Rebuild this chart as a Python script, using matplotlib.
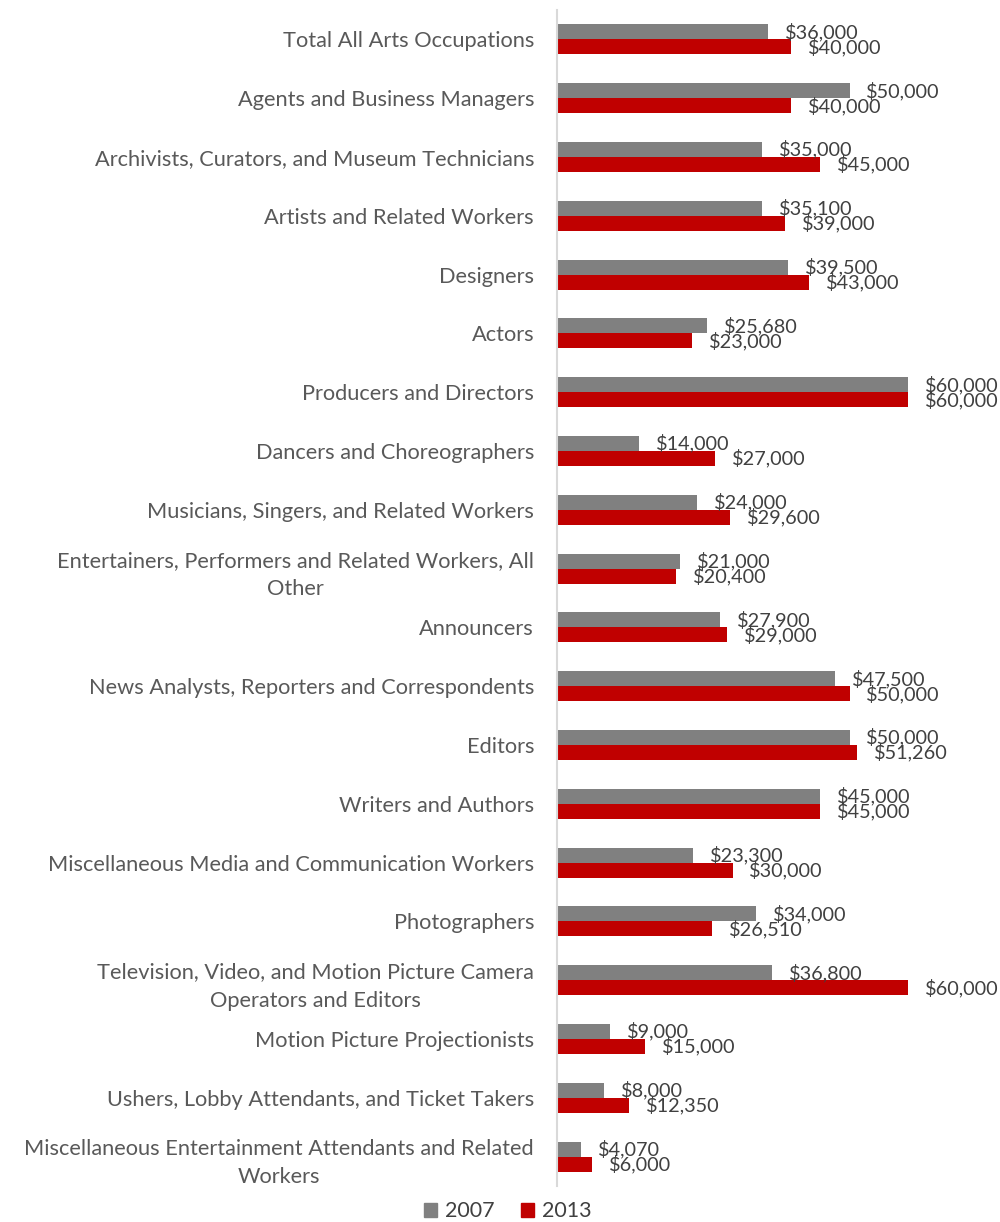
import matplotlib
matplotlib.use("Agg")
import matplotlib.pyplot as plt
import numpy as np
from matplotlib.patches import Patch

# --- Donnees ---
categories = [
    "Total All Arts Occupations",
    "Agents and Business Managers",
    "Archivists, Curators, and Museum Technicians",
    "Artists and Related Workers",
    "Designers",
    "Actors",
    "Producers and Directors",
    "Dancers and Choreographers",
    "Musicians, Singers, and Related Workers",
    "Entertainers, Performers and Related Workers, All\nOther",
    "Announcers",
    "News Analysts, Reporters and Correspondents",
    "Editors",
    "Writers and Authors",
    "Miscellaneous Media and Communication Workers",
    "Photographers",
    "Television, Video, and Motion Picture Camera\nOperators and Editors",
    "Motion Picture Projectionists",
    "Ushers, Lobby Attendants, and Ticket Takers",
    "Miscellaneous Entertainment Attendants and Related\nWorkers",
]
salaires_2007 = [36000, 50000, 35000, 35100, 39500, 25680, 60000, 14000, 24000, 21000,
                 27900, 47500, 50000, 45000, 23300, 34000, 36800, 9000, 8000, 4070]
salaires_2013 = [40000, 40000, 45000, 39000, 43000, 23000, 60000, 27000, 29600, 20400,
                 29000, 50000, 51260, 45000, 30000, 26510, 60000, 15000, 12350, 6000]

gris = "#808080"
rouge = "#C00000"
texte_cat = "#595959"
texte_val = "#404040"

plt.rcParams["font.family"] = ["Lato", "DejaVu Sans"]

fig = plt.figure(figsize=(10, 12.22), dpi=100)
ax = fig.add_axes([0.557, 1 - 1186 / 1222, 0.4095, (1186 - 10) / 1222])

y = np.arange(len(categories))
h = 0.256

ax.barh(y - h / 2, salaires_2007, height=h, color=gris)
ax.barh(y + h / 2, salaires_2013, height=h, color=rouge)

# etiquettes de valeur a droite des barres
for yi, v in zip(y, salaires_2007):
    ax.annotate(f"${v:,}", (v, yi - h / 2), xytext=(12.2, 0), textcoords="offset points",
                ha="left", va="center", fontsize=14.3, color=texte_val)
for yi, v in zip(y, salaires_2013):
    ax.annotate(f"${v:,}", (v, yi + h / 2), xytext=(12.2, 0), textcoords="offset points",
                ha="left", va="center", fontsize=14.3, color=texte_val)

ax.set_xlim(0, 70000)
ax.set_ylim(len(categories) - 0.5, -0.5)
ax.set_yticks(y)
ax.set_yticklabels(categories, fontsize=15.7, color=texte_cat,
                   multialignment="center", linespacing=1.55)
ax.tick_params(axis="y", length=0, pad=16.5)
ax.set_xticks([])

for s in ["top", "right", "bottom"]:
    ax.spines[s].set_visible(False)
ax.spines["left"].set_color("#D9D9D9")
ax.spines["left"].set_linewidth(1.5)

poignees = [Patch(color=gris, label="2007"), Patch(color=rouge, label="2013")]
fig.legend(handles=poignees, loc="lower center", bbox_to_anchor=(0.508, -0.010), ncol=2,
           frameon=False, fontsize=15.5, handlelength=0.6, handleheight=0.6,
           handletextpad=0.4, columnspacing=1.2, borderpad=0.1, labelcolor=texte_val)

fig.savefig("out.png", dpi=100)
